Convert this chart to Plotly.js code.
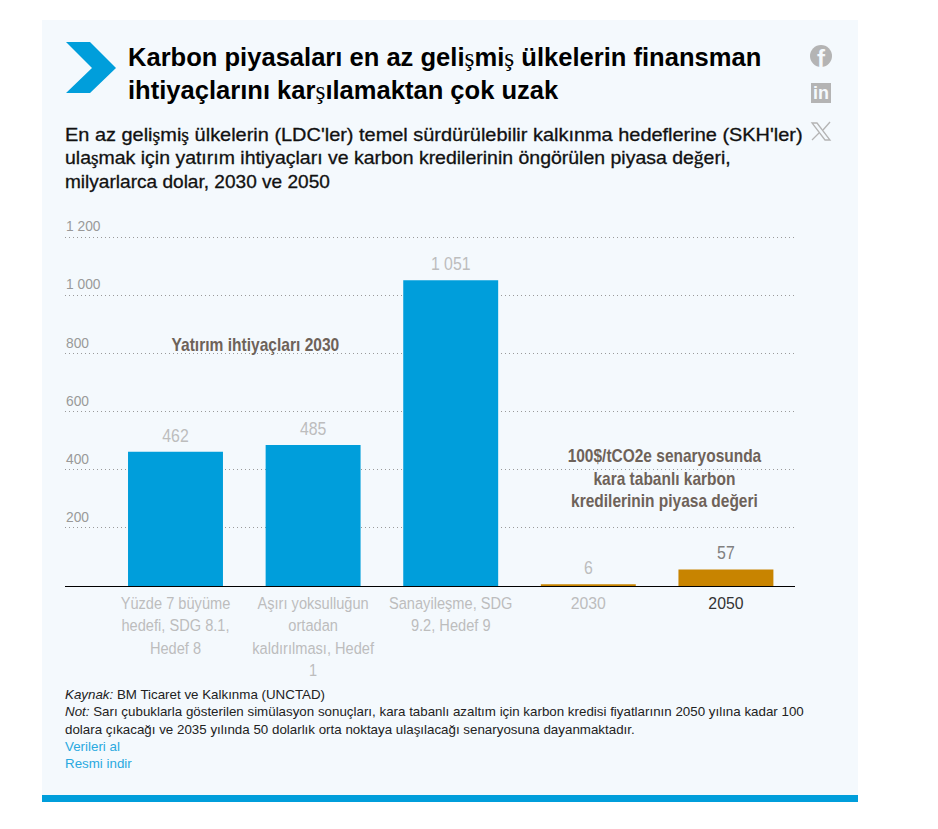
<!DOCTYPE html>
<html><head><meta charset="utf-8">
<script src="https://cdn.plot.ly/plotly-3.0.1.min.js"></script>
<style>html,body{margin:0;padding:0;background:#fff;overflow:hidden}#c{width:938px;height:829px}</style>
</head><body><div id="c"></div>
<script>
const needCategories = ["Yüzde 7 büyüme<br>hedefi, SDG 8.1,<br>Hedef 8", "Aşırı yoksulluğun<br>ortadan<br>kaldırılması, Hedef<br>1", "Sanayileşme, SDG<br>9.2, Hedef 9"];
const needValues = [462, 485, 1051];
const carbonCategories = ["2030", "2050"];
const carbonValues = [6, 57];
const yTicks = [200, 400, 600, 800, 1000, 1200];
const yTickLabels = ["200", "400", "600", "800", "1 000", "1 200"];

const NARROW = '"Liberation Sans",Arial,sans-serif';
const SANS = '"Liberation Sans",Arial,sans-serif';
const L = 65, R = 795, T = 200, B = 586;
const PX_PER_UNIT = 349 / 1200;
const px = x => (x - L) / (R - L), py = y => (B - y) / (B - T);
const sp = (c) => `<span style="font-family:'Liberation Serif';font-weight:normal">${c}</span>`;
const tr = s => s.replace(/ş/g, sp('ş')).replace(/ğ/g, sp('ğ'));

const allCats = needCategories.concat(carbonCategories);
const tickText = allCats.map(c => c === "2050" ? '<span style="color:#333333">2050</span>' : c);

const traces = [
 {type:'bar', x:needCategories, y:needValues, width:0.69, marker:{color:'#009EDB'},
  text:needValues.map(v => v >= 1000 ? String(v).replace(/(\d)(\d{3})$/, '$1 $2') : String(v)),
  textposition:'outside', cliponaxis:false, textfont:{family:NARROW,size:18,color:'#BDBDBD'}, hoverinfo:'x+y'},
 {type:'bar', x:carbonCategories, y:carbonValues, width:0.69, marker:{color:'#C88400'},
  text:carbonValues.map(String), textposition:'outside', cliponaxis:false,
  textfont:{family:NARROW,size:18,color:['#BDBDBD','#808080']}, hoverinfo:'x+y'}
];

const note = (x, y, text, size, color, extra) => Object.assign({xref:'paper',yref:'paper',x:px(x),y:py(y),text,
  showarrow:false,xanchor:'left',yanchor:'top',align:'left',borderpad:0,
  font:{family:SANS,size,color}}, extra||{});

const annotations = [
 note(127, 42, tr('<b>Karbon piyasaları en az gelişmiş ülkelerin finansman<br>ihtiyaçlarını karşılamaktan çok uzak</b>'), 25.55, '#000'),
 note(64, 124, tr("En az gelişmiş ülkelerin (LDC'ler) temel sürdürülebilir kalkınma hedeflerine (SKH'ler)"), 18, '#111'),
 note(64, 147.3, tr("ulaşmak için yatırım ihtiyaçları ve karbon kredilerinin öngörülen piyasa değeri,"), 18, '#111'),
 note(64, 170.6, "milyarlarca dolar, 2030 ve 2050", 18, '#111'),
 note(64, 686, "<i>Kaynak:</i> BM Ticaret ve Kalkınma (UNCTAD)<br><i>Not:</i> Sarı çubuklarla gösterilen simülasyon sonuçları, kara tabanlı azaltım için karbon kredisi fiyatlarının 2050 yılına kadar 100<br>dolara çıkacağı ve 2035 yılında 50 dolarlık orta noktaya ulaşılacağı senaryosuna dayanmaktadır.", 13.35, '#222'),
 note(64, 738, "Verileri al<br>Resmi indir", 13.35, '#2AA9E0'),
 note(255, 334, "<b>Yatırım ihtiyaçları 2030</b>", 17.5, '#6E6259', {xanchor:'center',align:'center'}),
 note(664, 445, "<b>100$/tCO2e senaryosunda<br>kara tabanlı karbon<br>kredilerinin piyasa değeri</b>", 17.5, '#6E6259', {xanchor:'center',align:'center'}),
 note(821, 58, "<b>f</b>", 24, '#F4F9FD', {xanchor:'center',yanchor:'middle'}),
 note(821, 93, "<b>in</b>", 18, '#F4F9FD', {xanchor:'center',yanchor:'middle'})
];

const rect = (x0,y0,x1,y1,color,layer) => ({type:'rect',xref:'paper',yref:'paper',x0:px(x0),x1:px(x1),y0:py(y0),y1:py(y1),
  fillcolor:color,line:{width:0},layer:layer||'below'});
const poly = (pts,color) => ({type:'path',xref:'paper',yref:'paper',layer:'above',fillcolor:color,line:{width:0},
  path:'M'+pts.map(p=>px(p[0])+','+py(p[1])).join('L')+'Z'});
const outline = (pts,w,color) => ({type:'path',xref:'paper',yref:'paper',layer:'above',line:{width:w,color},
  path:'M'+pts.map(p=>px(p[0])+','+py(p[1])).join('L')+'Z'});
const circle = (cx,cy,r,color) => ({type:'circle',xref:'paper',yref:'paper',x0:px(cx-r),x1:px(cx+r),y0:py(cy-r),y1:py(cy+r),fillcolor:color,line:{width:0},layer:'above'});
const seg = (a,b,w,color) => ({type:'line',xref:'paper',yref:'paper',x0:px(a[0]),y0:py(a[1]),x1:px(b[0]),y1:py(b[1]),line:{width:w,color},layer:'above'});

const ICON = '#B4B4B4';
const shapes = [
 rect(42,20,858,802,'#F4F9FD'),
 rect(42,795,858,802,'#009EDB'),
 poly([[66,42],[90,42],[116,68],[90,93],[66,93],[92,68]],'#009EDB'),
 circle(821,56,11,ICON),
 rect(811,83,831,103,ICON,'above'),
 outline([[812,123],[817,123],[830,140],[825,140]],1.3,ICON),
 seg([830,122],[823,130],1.3,ICON),
 seg([819,133],[812,140],1.3,ICON)
];

const layout = {
 width:938, height:829, autosize:false,
 margin:{l:L,r:938-R,t:T,b:829-B,pad:0},
 paper_bgcolor:'#fff', plot_bgcolor:'rgba(0,0,0,0)',
 showlegend:false, barmode:'overlay',
 font:{family:SANS},
 xaxis:{type:'category',categoryorder:'array',categoryarray:allCats,tickmode:'array',tickvals:allCats,ticktext:tickText,
  range:[-0.803,4.502],showgrid:false,zeroline:false,showline:true,linecolor:'#000',linewidth:1,ticks:'',
  tickangle:0,automargin:false,tickfont:{family:NARROW,size:17,color:'#BDBDBD'}},
 yaxis:{range:[0,(B-T)/PX_PER_UNIT],tickmode:'array',tickvals:yTicks,ticktext:yTickLabels,showline:false,zeroline:false,ticks:'',
  gridcolor:'#9A9A9A',griddash:'1px,3px',gridwidth:1,ticklabelposition:'inside top',
  tickfont:{family:NARROW,size:15,color:'#999999'},automargin:false},
 annotations, shapes
};

// The reference's labels use a condensed face that is not installed: narrow the real text horizontally.
function squeeze(el, sx, dx, dy, anchor) {
  const b = el.getBBox();
  const ox = anchor === 'left' ? b.x : b.x + b.width / 2;
  const prev = el.getAttribute('transform') || '';
  el.setAttribute('transform', `${prev} translate(${ox + dx},${dy}) scale(${sx},1) translate(${-ox},0)`);
}
Plotly.newPlot('c', traces, layout, {displayModeBar:false, staticPlot:true}).then(gd => {
  gd.querySelectorAll('.xtick text').forEach(t => squeeze(t, /^20\d\d$/.test(t.textContent) ? 0.93 : 0.86, 0, 2));
  gd.querySelectorAll('.ytick text').forEach(t => squeeze(t, 0.92, -2, -0.5, 'left'));
  gd.querySelectorAll('text.bartext').forEach(t => squeeze(t, 0.88, 0, -3));
  const ann = gd.querySelectorAll('.annotation-text');
  [[1,1.108],[2,1.082],[3,1.06]].forEach(([i,s]) => {
    squeeze(ann[i], s, 0, 0, 'left');
    ann[i].setAttribute('stroke', '#111'); ann[i].setAttribute('stroke-width', '0.3');
  });
  squeeze(ann[6], 0.89, 0, 0);
  squeeze(ann[7], 0.885, 0, 0);
});
</script></body></html>
